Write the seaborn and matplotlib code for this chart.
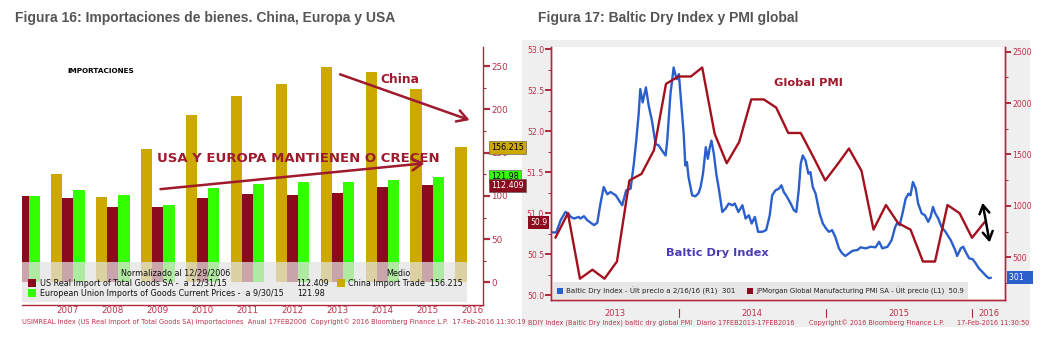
import numpy as np
import pandas as pd
import matplotlib
matplotlib.use("Agg")
import matplotlib.pyplot as plt
import matplotlib.dates as mdates
import matplotlib.transforms as mtransforms
from matplotlib.patches import Rectangle
from matplotlib.lines import Line2D
from matplotlib.ticker import MultipleLocator, FixedLocator, NullLocator, FormatStrFormatter
import seaborn as sns

# ------------------------------------------------------------------ data
# Figura 16 : importaciones normalizadas (12/29/2006 = 100)
years = ["2006", "2007", "2008", "2009", "2010", "2011", "2012", "2013", "2014", "2015", "2016"]
china_imports = [100, 125, 99, 154, 193, 215.5, 229, 249, 243, 224, 156.215]
us_imports = [100, 97.7, 87.7, 87.7, 97.7, 102, 100.8, 103.5, 110.8, 112.409, None]
eu_imports = [100, 106.6, 100.8, 89.6, 108.9, 114.3, 115.8, 115.8, 118.9, 121.98, None]
series_labels = ["China Import Trade", "US Real Import of Total Goods SA",
                 "European Union Imports of Goods Current Prices"]
y16_ticks = [0, 50, 100, 150, 200, 250]

# Figura 17 : JPMorgan Global Manufacturing PMI (L1) y Baltic Dry Index (R1)
pmi_dates = ["2013-02-28", "2013-03-31", "2013-04-30", "2013-05-31", "2013-06-30", "2013-07-31",
             "2013-08-31", "2013-09-30", "2013-10-31", "2013-11-30", "2013-12-31", "2014-01-31",
             "2014-02-28", "2014-03-31", "2014-04-30", "2014-05-31", "2014-06-30", "2014-07-31",
             "2014-08-31", "2014-09-30", "2014-10-31", "2014-11-30", "2014-12-31", "2015-01-31",
             "2015-02-28", "2015-03-31", "2015-04-30", "2015-05-31", "2015-06-30", "2015-07-31",
             "2015-08-31", "2015-09-30", "2015-10-31", "2015-11-30", "2015-12-31", "2016-01-31"]
pmi_values = [50.70, 51.00, 50.20, 50.31, 50.20, 50.41, 51.40, 51.48, 51.77, 52.58, 52.67, 52.67,
              52.78, 51.97, 51.61, 51.87, 52.39, 52.39, 52.29, 51.98, 51.98, 51.70, 51.40, 51.60,
              51.79, 51.52, 50.80, 51.10, 50.88, 50.80, 50.41, 50.41, 51.10, 51.00, 50.70, 50.89]

bdi_dates = ["2013-02-18", "2013-03-02", "2013-03-13", "2013-03-25", "2013-04-01", "2013-04-07",
             "2013-04-15", "2013-04-27", "2013-05-01", "2013-05-10", "2013-05-18", "2013-05-27",
             "2013-06-04", "2013-06-12", "2013-06-20", "2013-06-28", "2013-07-07", "2013-07-15",
             "2013-07-28", "2013-08-05", "2013-08-13", "2013-08-23", "2013-09-03", "2013-09-11",
             "2013-09-17", "2013-09-23", "2013-09-27", "2013-10-03", "2013-10-11", "2013-10-18",
             "2013-10-26", "2013-11-04", "2013-11-12", "2013-11-20", "2013-11-29", "2013-12-03",
             "2013-12-11", "2013-12-19", "2013-12-23", "2013-12-27", "2014-01-01", "2014-01-07",
             "2014-01-13", "2014-01-17", "2014-01-21", "2014-01-25", "2014-02-03", "2014-02-11",
             "2014-02-19", "2014-02-24", "2014-03-02", "2014-03-09", "2014-03-14", "2014-03-19",
             "2014-03-23", "2014-03-29", "2014-04-04", "2014-04-11", "2014-04-19", "2014-04-27",
             "2014-05-05", "2014-05-14", "2014-05-20", "2014-05-29", "2014-06-08", "2014-06-16",
             "2014-06-24", "2014-07-01", "2014-07-09", "2014-07-17", "2014-07-27", "2014-08-06",
             "2014-08-15", "2014-08-21", "2014-08-29", "2014-09-07", "2014-09-13", "2014-09-19",
             "2014-09-27", "2014-10-06", "2014-10-14", "2014-10-20", "2014-10-26", "2014-10-31",
             "2014-11-05", "2014-11-12", "2014-11-19", "2014-11-24", "2014-11-30", "2014-12-07",
             "2014-12-17", "2014-12-25", "2015-01-02", "2015-01-09", "2015-01-17", "2015-01-25",
             "2015-02-03", "2015-02-11", "2015-02-19", "2015-02-28", "2015-03-09", "2015-03-21",
             "2015-03-29", "2015-04-11", "2015-04-23", "2015-05-05", "2015-05-14", "2015-05-22",
             "2015-06-04", "2015-06-14", "2015-06-23", "2015-06-28", "2015-07-04", "2015-07-11",
             "2015-07-19", "2015-07-26", "2015-07-31", "2015-08-06", "2015-08-13", "2015-08-19",
             "2015-08-28", "2015-09-05", "2015-09-13", "2015-09-19", "2015-09-25", "2015-09-30",
             "2015-10-08", "2015-10-16", "2015-10-26", "2015-11-08", "2015-11-19", "2015-11-24",
             "2015-12-03", "2015-12-09", "2015-12-17", "2015-12-24", "2016-01-02", "2016-01-09",
             "2016-01-17", "2016-01-25", "2016-02-04", "2016-02-11", "2016-02-16"]
bdi_values = [742, 742, 861, 941, 926, 893, 877, 893, 877, 900, 861, 835,
              813, 835, 1023, 1183, 1113, 1135, 1103, 1055, 1006, 1151, 1168, 1410,
              1635, 1894, 2136, 2006, 2152, 1974, 1829, 1603, 1587, 1539, 1490, 1635,
              2087, 2345, 2281, 2232, 2281, 1990, 1700, 1393, 1426, 1280, 1103, 1093,
              1125, 1183, 1313, 1571, 1458, 1571, 1635, 1506, 1313, 1151, 941, 974,
              1023, 1006, 1023, 941, 1006, 877, 909, 829, 893, 748, 748, 764,
              909, 1103, 1151, 1168, 1200, 1135, 1087, 1023, 958, 941, 1151, 1410,
              1490, 1442, 1313, 1329, 1183, 1119, 926, 829, 780, 748, 764, 699,
              587, 539, 513, 539, 564, 571, 597, 587, 603, 597, 651, 587,
              603, 667, 796, 835, 813, 926, 1071, 1119, 1103, 1232, 1168, 1023,
              926, 909, 845, 893, 990, 932, 877, 796, 748, 667, 571, 513,
              587, 603, 539, 490, 480, 442, 393, 361, 319, 297, 301]
pmi_ticks = [50.0, 50.5, 51.0, 51.5, 52.0, 52.5, 53.0]
bdi_ticks = [500, 1000, 1500, 2000, 2500]

# ------------------------------------------------------------------ style
sns.set_theme(style="white")
plt.rcParams['font.family'] = ['DejaVu Sans']

W, H = 1058, 339
GOLD = "#cca800"
DRED = "#8c0a1e"
GREEN = "#33ff00"
BLUE = "#2a5fcc"
AXRED = "#b0283c"
TXTRED = "#c0304a"
ANNRED = "#9e1a2c"
TITLE_C = "#555555"


def fx(x):
    return x / W


def fy(y):
    return 1 - y / H


fig = plt.figure(figsize=(W / 100, H / 100), dpi=100)
fig.patch.set_facecolor("white")

# titles
fig.text(fx(15), fy(18), "Figura 16: Importaciones de bienes. China, Europa y USA",
         family="Liberation Sans", weight="bold", size=10.0, color=TITLE_C, va="center", ha="left")
fig.text(fx(538), fy(18), "Figura 17: Baltic Dry Index y PMI global",
         family="Liberation Sans", weight="bold", size=10.0, color=TITLE_C, va="center", ha="left")

# gray panel behind figure 17
bg = fig.add_axes([fx(522), fy(327), (1030 - 522) / W, (327 - 40) / H], zorder=-5)
bg.set_facecolor("#efefef")
bg.set_xticks([])
bg.set_yticks([])
for s in bg.spines.values():
    s.set_visible(False)

# ================================================================== Figura 16
ax1 = fig.add_axes([fx(22), fy(305), (483 - 22) / W, (305 - 47) / H])
rows = []
for i, yr in enumerate(years):
    for name, vals in zip(series_labels, [china_imports, us_imports, eu_imports]):
        if vals[i] is not None:
            rows.append({"year": yr, "serie": name, "valor": vals[i]})
df16 = pd.DataFrame(rows)
sns.barplot(data=df16, x="year", y="valor", hue="serie", order=years, hue_order=series_labels,
            palette=[GOLD, DRED, GREEN], width=0.75, errorbar=None, ax=ax1,
            saturation=1, legend=False, zorder=2)
for p in ax1.patches:
    p.set_linewidth(0)

ax1.set_xlim(-0.02, 10.24)
ax1.set_ylim(-26, 272)
ax1.set_xlabel("")
ax1.set_ylabel("")
ax1.set_facecolor("white")
ax1.yaxis.tick_right()
ax1.yaxis.set_major_locator(FixedLocator(y16_ticks))
ax1.yaxis.set_minor_locator(FixedLocator([25, 75, 125, 175, 225]))
ax1.tick_params(axis="y", which="major", colors=AXRED, labelcolor=TXTRED, length=5, width=1.6,
                direction="out", labelsize=6.3, pad=1)
ax1.tick_params(axis="y", which="minor", colors=AXRED, length=2.5, width=0.8, direction="out")
ax1.set_xticks(range(1, len(years)))
ax1.set_xticklabels(years[1:])
ax1.tick_params(axis="x", which="major", length=0, labelcolor=TXTRED, labelsize=6.3, pad=1)
for s in ["top", "left"]:
    ax1.spines[s].set_visible(False)
for s in ["right", "bottom"]:
    ax1.spines[s].set_visible(True)
    ax1.spines[s].set_color(AXRED)
    ax1.spines[s].set_linewidth(1.0)

# legend panel (Bloomberg style)
ax1.add_patch(Rectangle((0, (305 - 302) / 258), (467 - 22) / 461, 40 / 258, transform=ax1.transAxes,
                        facecolor="#e2e2e2", alpha=0.72, edgecolor="none", zorder=5))
lx = lambda x: (x - 22) / 461
ly = lambda y: (305 - y) / 258
ltxt = dict(transform=ax1.transAxes, size=5.8, color="#111111", zorder=6, va="center")
ax1.text(lx(176), ly(273), "Normalizado al 12/29/2006", ha="center", **ltxt)
ax1.text(lx(398), ly(273), "Medio", ha="center", **ltxt)
for (xs, yv, col) in [(28, 283, DRED), (28, 293, GREEN), (337, 283, GOLD)]:
    ax1.add_patch(Rectangle((lx(xs), ly(yv) - 3.8 / 258), 8 / 461, 7.6 / 258, transform=ax1.transAxes,
                            facecolor=col, edgecolor="none", zorder=6))
ax1.text(lx(40), ly(283), "US Real Import of Total Goods SA -  a 12/31/15", ha="left", **ltxt)
ax1.text(lx(296), ly(283), f"{us_imports[-2]:.3f}", ha="left", **ltxt)
ax1.text(lx(348), ly(283), f"China Import Trade  {china_imports[-1]:.3f}", ha="left", **ltxt)
ax1.text(lx(40), ly(293), "European Union Imports of Goods Current Prices -  a 9/30/15", ha="left", **ltxt)
ax1.text(lx(297), ly(293), f"{eu_imports[-2]:.2f}", ha="left", **ltxt)

# value tags on the right axis
tag_tr = mtransforms.blended_transform_factory(ax1.transAxes, ax1.transData)
for val, fc, tc, txt in [(china_imports[-1], GOLD, "black", f"{china_imports[-1]:.3f}"),
                         (eu_imports[-2] + 0.8, GREEN, "black", f"{eu_imports[-2]:.2f}"),
                         (us_imports[-2], DRED, "white", f"{us_imports[-2]:.3f}")]:
    ax1.text(1 + 8 / 461, val, txt, transform=tag_tr, ha="left", va="center", size=5.8, color=tc,
             clip_on=False, zorder=10,
             bbox=dict(boxstyle="square,pad=0.25", facecolor=fc, edgecolor="#555555", linewidth=0.4))

# annotations
ax1.text(1.73, 244, "IMPORTACIONES", ha="center", va="center", size=5.2, weight="bold", color="black")
ax1.text(8.4, 234.5, "China", ha="center", va="center", size=8.8, weight="bold", color=ANNRED, zorder=7)
ax1.text(6.13, 143.5, "USA Y EUROPA MANTIENEN O CRECEN", ha="center", va="center", size=9.5,
         weight="bold", color=ANNRED, zorder=7)
ax1.annotate("", xy=(10.0, 186.5), xytext=(7.0, 241.5),
             arrowprops=dict(arrowstyle="->,head_length=0.6,head_width=0.35", color=ANNRED, lw=1.8),
             zorder=7)
ax1.annotate("", xy=(9.0, 138), xytext=(3.0, 107.5),
             arrowprops=dict(arrowstyle="->,head_length=0.6,head_width=0.35", color=ANNRED, lw=1.8),
             zorder=7)

fig.text(fx(22), fy(322), "USIMREAL Index (US Real Import of Total Goods SA) importaciones  Anual 17FEB2006  "
         "Copyright\u00a9 2016 Bloomberg Finance L.P.  17-Feb-2016 11:30:19",
         size=4.8, color=TXTRED, va="center", ha="left")

# ================================================================== Figura 17
axp = fig.add_axes([fx(551), fy(300), (1005 - 551) / W, (300 - 47) / H], zorder=2)
axb = axp.twinx()
axb.set_zorder(1)
pmi_dt = pd.to_datetime(pmi_dates)
bdi_dt = pd.to_datetime(bdi_dates)

sns.lineplot(x=bdi_dt, y=bdi_values, ax=axb, color=BLUE, linewidth=1.7)
sns.lineplot(x=pmi_dt, y=pmi_values, ax=axp, color="#a3101e", linewidth=1.7)

axp.patch.set_visible(False)
axb.patch.set_visible(True)
axb.patch.set_facecolor("white")

x0, x1 = pd.Timestamp("2013-02-17"), pd.Timestamp("2016-03-22")
axp.set_xlim(x0, x1)
axp.set_ylim(49.94, 53.03)
axb.set_ylim(85, 2545)
for a in (axp, axb):
    a.set_xlabel("")
    a.set_ylabel("")
    a.grid(False)
    for s in a.spines.values():
        s.set_color(AXRED)
        s.set_linewidth(1.0)
    a.spines["top"].set_visible(False)

axp.yaxis.set_major_locator(FixedLocator(pmi_ticks))
axp.yaxis.set_minor_locator(FixedLocator([v + 0.25 for v in pmi_ticks[:-1]]))
axp.yaxis.set_major_formatter(FormatStrFormatter("%.1f"))
axp.tick_params(axis="y", which="major", colors=AXRED, labelcolor=TXTRED, length=4, width=1.4,
                labelsize=5.6, pad=1, direction="out")
axp.tick_params(axis="y", which="minor", colors=AXRED, length=2, width=0.7, direction="out")
axb.yaxis.set_major_locator(FixedLocator(bdi_ticks))
axb.yaxis.set_minor_locator(FixedLocator([250, 750, 1250, 1750, 2250]))
axb.tick_params(axis="y", which="major", colors=AXRED, labelcolor=TXTRED, length=4, width=1.4,
                labelsize=5.6, pad=1, direction="out")
axb.tick_params(axis="y", which="minor", colors=AXRED, length=2, width=0.7, direction="out")

axp.xaxis.set_major_locator(NullLocator())
axp.xaxis.set_minor_locator(mdates.MonthLocator())
axp.tick_params(axis="x", which="minor", colors=AXRED, length=3, width=0.8, direction="out")
axb.xaxis.set_major_locator(NullLocator())
axb.xaxis.set_minor_locator(NullLocator())

# year labels and separators
btr = mtransforms.blended_transform_factory(axp.transData, axp.transAxes)
bounds = [x0, pd.Timestamp("2014-01-01"), pd.Timestamp("2015-01-01"), pd.Timestamp("2016-01-01"), x1]
for i, lab in enumerate(["2013", "2014", "2015", "2016"]):
    mid = bounds[i] + (bounds[i + 1] - bounds[i]) / 2
    axp.text(mid, -13 / 253, lab, transform=btr, ha="center", va="center", size=6.0,
             color=TXTRED, clip_on=False)
for b in bounds[1:4]:
    axp.add_line(Line2D([b, b], [-9 / 253, -17 / 253], transform=btr, color=AXRED, lw=0.8,
                        clip_on=False))

# legend panel
axp.add_patch(Rectangle((2 / 454, 0.002), (968 - 553) / 454, 17 / 253, transform=axp.transAxes,
                        facecolor="#e6e6e6", edgecolor="none", zorder=5))
px_ = lambda x: (x - 551) / 454
py_ = lambda y: (300 - y) / 253
for xs, col in [(557, BLUE), (747, DRED)]:
    axp.add_patch(Rectangle((px_(xs), py_(294)), 5.5 / 454, 6 / 253, transform=axp.transAxes,
                            facecolor=col, edgecolor="none", zorder=6))
axp.text(px_(566), py_(291), f"Baltic Dry Index - \u00dalt precio a 2/16/16 (R1)  {bdi_values[-1]}",
         transform=axp.transAxes, size=5.1, color="#222222", va="center", ha="left", zorder=6)
axp.text(px_(756), py_(291), f"JPMorgan Global Manufacturing PMI SA - \u00dalt precio (L1)  {pmi_values[-1]:.1f}",
         transform=axp.transAxes, size=4.95, color="#222222", va="center", ha="left", zorder=6)

# tags
ltr = mtransforms.blended_transform_factory(axp.transAxes, axp.transData)
axp.text(-4 / 454, pmi_values[-1], f"{pmi_values[-1]:.1f}", transform=ltr, ha="right", va="center",
         size=5.6, color="white", clip_on=False, zorder=10,
         bbox=dict(boxstyle="square,pad=0.25", facecolor=DRED, edgecolor="none"))
rtr = mtransforms.blended_transform_factory(axp.transAxes, axb.transData)
axp.text(1 + 4 / 454, bdi_values[-1], f"{bdi_values[-1]}" + "   ", transform=rtr, ha="left",
         va="center", size=5.6, color="white", clip_on=False, zorder=10,
         bbox=dict(boxstyle="square,pad=0.25", facecolor=BLUE, edgecolor="none"))

# annotations
axp.text(pd.Timestamp("2014-11-19"), 52.59, "Global PMI", ha="center", va="center", size=8.2,
         weight="bold", color=ANNRED, zorder=7)
axp.text(pd.Timestamp("2014-04-06"), 50.51, "Baltic Dry Index", ha="center", va="center", size=8.2,
         weight="bold", color="#4a3cb4", zorder=7)
axp.annotate("", xy=(pd.Timestamp("2016-02-14"), 50.61), xytext=(pd.Timestamp("2016-01-25"), 51.16),
             arrowprops=dict(arrowstyle="<->,head_length=0.5,head_width=0.3", color="black", lw=1.8),
             zorder=8)

fig.text(fx(528), fy(323), "BDIY Index (Baltic Dry Index) baltic dry global PMI  Diario 17FEB2013-17FEB2016",
         size=4.7, color=TXTRED, va="center", ha="left")
fig.text(fx(809), fy(323), "Copyright\u00a9 2016 Bloomberg Finance L.P.", size=4.7, color=TXTRED,
         va="center", ha="left")
fig.text(fx(1029), fy(323), "17-Feb-2016 11:30:50", size=4.7, color=TXTRED, va="center", ha="right")

fig.savefig("out.png", dpi=100, facecolor="white")
